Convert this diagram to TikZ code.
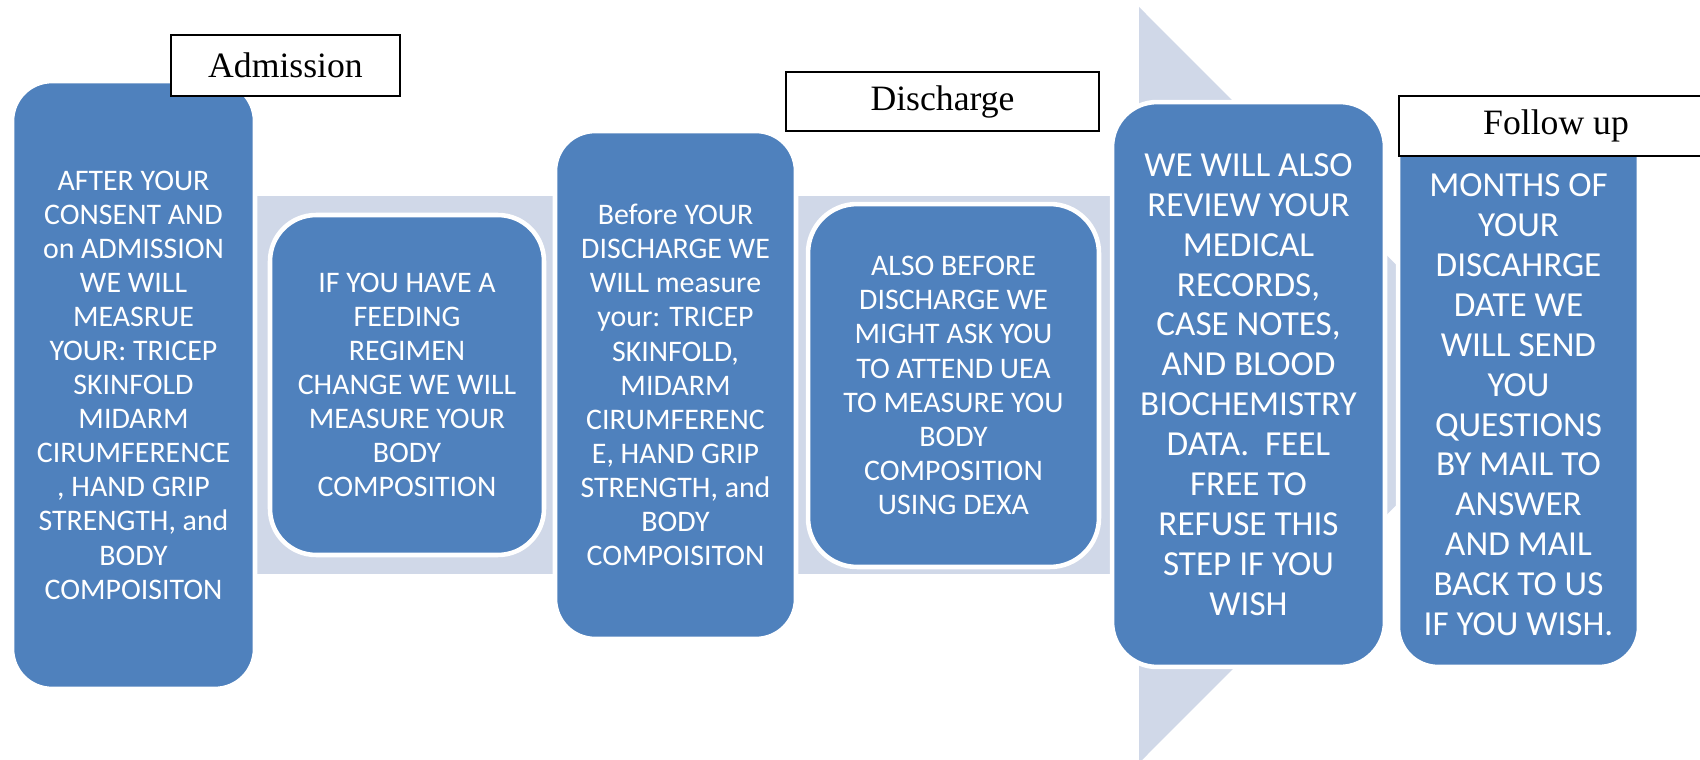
\documentclass[tikz,border=0pt]{standalone}
\usepackage{fontspec}
\setmainfont{Liberation Serif}
\newfontfamily\boxfont{Carlito}
\definecolor{boxblue}{HTML}{4F81BD}
\definecolor{bandc}{HTML}{D0D8E8}
\begin{document}
\begin{tikzpicture}[x=0.02cm,y=-0.02cm,
  bandfill/.style={fill=bandc, draw=none},
  bluebox/.style={rectangle, fill=boxblue, draw=white, line width=2.6pt, text=white, align=center, inner sep=0pt},
  smalltext/.style={font=\boxfont\fontsize{17}{19.4}\selectfont},
  bigtext/.style={font=\boxfont\fontsize{20}{22.7}\selectfont},
  stagelabel/.style={rectangle, draw=black, line width=0.8pt, fill=white, inner sep=0pt, font=\fontsize{20.3}{24}\selectfont}]
\clip (0,0) rectangle (1700,760);
\fill[white] (0,0) rectangle (1700,760);
% background bands and chevron
\fill[bandfill] (240,196) rectangle (570,574);
\fill[bandfill] (780,196) rectangle (1150,574);
\fill[bandfill] (1139,7) -- (1516,385) -- (1139,763) -- cycle;
% boxes
\node[bluebox, smalltext, rounded corners=0.8cm, minimum width=4.86cm, minimum height=12.16cm] (b1) at (133.5,385)
 {AFTER YOUR\\CONSENT AND\\on ADMISSION\\WE WILL\\MEASRUE\\YOUR: TRICEP\\SKINFOLD\\MIDARM\\CIRUMFERENCE\\, HAND GRIP\\STRENGTH, and\\BODY\\COMPOISITON};
\node[bluebox, smalltext, rounded corners=0.92cm, minimum width=5.48cm, minimum height=6.8cm] (b2) at (407,385)
 {IF YOU HAVE A\\FEEDING\\REGIMEN\\CHANGE WE WILL\\MEASURE YOUR\\BODY\\COMPOSITION};
\node[bluebox, smalltext, rounded corners=0.8cm, minimum width=4.82cm, minimum height=10.16cm] (b3) at (675.5,385)
 {Before YOUR\\DISCHARGE WE\\WILL measure\\your: TRICEP\\SKINFOLD,\\MIDARM\\CIRUMFERENC\\E, HAND GRIP\\STRENGTH, and\\BODY\\COMPOISITON};
\node[bluebox, smalltext, rounded corners=0.98cm, minimum width=5.82cm, minimum height=7.26cm] (b4) at (953.5,385.5)
 {ALSO BEFORE\\DISCHARGE WE\\MIGHT ASK YOU\\TO ATTEND UEA\\TO MEASURE YOU\\BODY\\COMPOSITION\\USING DEXA};
\node[bluebox, bigtext, rounded corners=0.9cm, minimum width=5.46cm, minimum height=11.3cm] (b5) at (1248.5,384.5)
 {WE WILL ALSO\\REVIEW YOUR\\MEDICAL\\RECORDS,\\CASE NOTES,\\AND BLOOD\\BIOCHEMISTRY\\DATA.~ FEEL\\FREE TO\\REFUSE THIS\\STEP IF YOU\\WISH};
\node[bluebox, bigtext, rounded corners=0.8cm, minimum width=4.82cm, minimum height=11.3cm] (b6) at (1518.5,384.5)
 {AFTER 6\\MONTHS OF\\YOUR\\DISCAHRGE\\DATE WE\\WILL SEND\\YOU\\QUESTIONS\\BY MAIL TO\\ANSWER\\AND MAIL\\BACK TO US\\IF YOU WISH.};
% stage labels
\node[stagelabel, minimum width=4.58cm, minimum height=1.22cm] (admission) at (285.5,65.5) {Admission};
\node[stagelabel, minimum width=6.26cm, minimum height=1.18cm] (discharge) at (942.5,101.5) {Discharge};
\node[stagelabel, minimum width=6.28cm, minimum height=1.2cm] (followup) at (1556,126) {Follow up};
\end{tikzpicture}
\end{document}
